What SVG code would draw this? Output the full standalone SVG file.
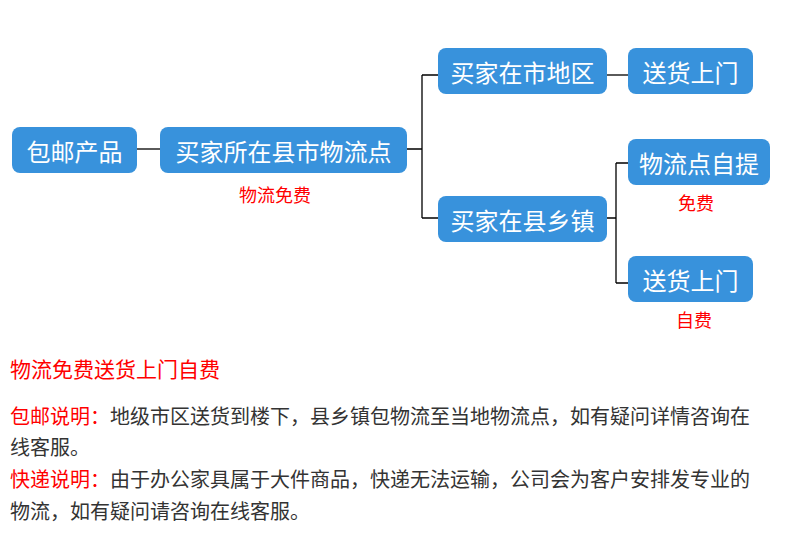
<svg xmlns="http://www.w3.org/2000/svg" width="790" height="554" viewBox="0 0 790 554">
<style>
.node rect{fill:#3892dc;}
.node text{fill:#ffffff;font-family:"Noto Sans CJK SC","Microsoft YaHei",sans-serif;font-size:24px;text-anchor:middle;dominant-baseline:central;}
.conn{fill:none;stroke:#000000;stroke-width:1.3;}
.note{fill:#ff0000;font-family:"Noto Sans CJK SC",sans-serif;font-size:18px;text-anchor:middle;dominant-baseline:central;}
.body{fill:#333333;font-family:"Noto Sans CJK SC",sans-serif;font-size:20px;dominant-baseline:central;}
.red{fill:#ff0000;}
</style>
<rect width="790" height="554" fill="#ffffff"/>
<g id="connectors">
<path class="conn" d="M137,149 H160"/>
<path class="conn" d="M407,149 H422 M422,75 V218 M422,75 H438 M422,218 H438"/>
<path class="conn" d="M607,75 H628"/>
<path class="conn" d="M607,218 H616 M616,163 V283 M616,163 H628 M616,283 H628"/>
</g>
<g id="n1" class="node"><rect x="12" y="127" width="125" height="46" rx="8"/><text x="74.5" y="150">包邮产品</text></g>
<g id="n2" class="node"><rect x="160" y="127" width="247" height="46" rx="8"/><text x="283.5" y="150">买家所在县市物流点</text></g>
<g id="n3" class="node"><rect x="438" y="48" width="169" height="46" rx="8"/><text x="522.5" y="71">买家在市地区</text></g>
<g id="n4" class="node"><rect x="628" y="48" width="125" height="46" rx="8"/><text x="690.5" y="71">送货上门</text></g>
<g id="n5" class="node"><rect x="438" y="196" width="169" height="46" rx="8"/><text x="522.5" y="219">买家在县乡镇</text></g>
<g id="n6" class="node"><rect x="628" y="139" width="142" height="46" rx="8"/><text x="699" y="162">物流点自提</text></g>
<g id="n7" class="node"><rect x="628" y="256" width="125" height="46" rx="8"/><text x="690.5" y="279">送货上门</text></g>
<g id="labels">
<text class="note" x="275" y="194">物流免费</text>
<text class="note" x="696" y="202">免费</text>
<text class="note" x="694" y="319">自费</text>
</g>
<g id="notes">
<text class="body red" x="10" y="368" style="font-size:21px">物流免费送货上门自费</text>
<text class="body" x="10" y="415"><tspan class="red">包邮说明：</tspan>地级市区送货到楼下，县乡镇包物流至当地物流点，如有疑问详情咨询在</text>
<text class="body" x="10" y="446">线客服。</text>
<text class="body" x="10" y="478"><tspan class="red">快递说明：</tspan>由于办公家具属于大件商品，快递无法运输，公司会为客户安排发专业的</text>
<text class="body" x="10" y="510">物流，如有疑问请咨询在线客服。</text>
</g>
</svg>
